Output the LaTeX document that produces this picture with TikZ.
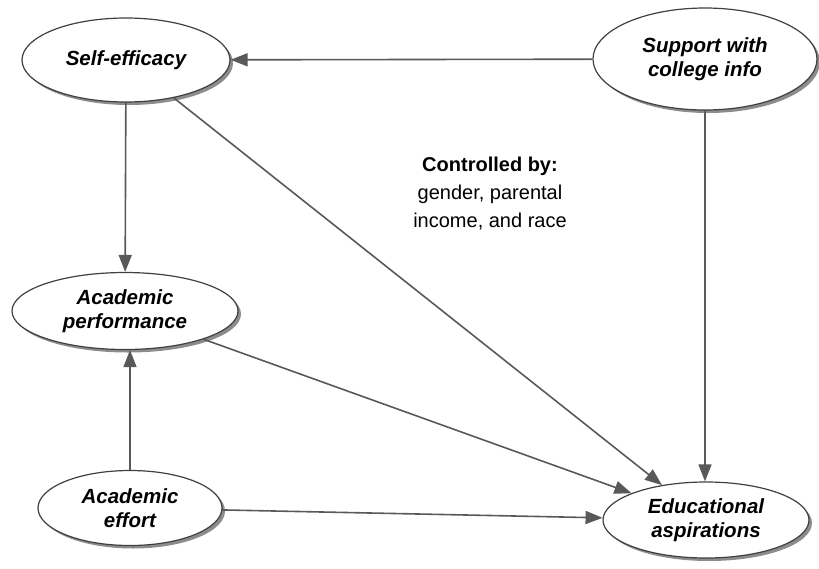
\documentclass[tikz,border=0pt]{standalone}
\usepackage{fontspec}
\setmainfont{Liberation Sans}
\usetikzlibrary{shapes.geometric,shadows,arrows.meta}

\tikzset{
  var/.style={ellipse, draw=black!75, line width=1.2pt, fill=white, inner sep=0pt,
    align=center, font=\fontsize{20.5}{24}\selectfont\bfseries\itshape,
    drop shadow={shadow xshift=3pt, shadow yshift=-3pt, fill=black!45, opacity=1}},
  arr/.style={draw=black!65, line width=1.6pt,
    -{Triangle[length=17pt,width=13pt]}, fill=black!65},
  note/.style={align=center, font=\fontsize{20}{28}\selectfont}
}

\begin{document}
\begin{tikzpicture}[x=1pt, y=-1pt]
  \useasboundingbox (0,0) rectangle (819,568);

  % latent constructs
  \node[var, minimum width=208pt, minimum height=84pt] (se)  at (126,60)  {Self-efficacy};
  \node[var, minimum width=224pt, minimum height=102pt] (sup) at (705,59)  {Support with\\college info};
  \node[var, minimum width=226pt, minimum height=77pt] (pf)  at (125,311) {Academic\\performance};
  \node[var, minimum width=184pt, minimum height=75pt] (ef)  at (130,508) {Academic\\effort};
  \node[var, minimum width=206pt, minimum height=76pt] (edu) at (706,520) {Educational\\aspirations};

  % control variables
  \node[note] (ctl) at (490,194) {\textbf{Controlled by:}\\gender, parental\\income, and race};

  % paths
  \draw[arr] (sup) -- (se);
  \draw[arr] (se) -- (pf);
  \draw[arr] (ef.north) -- (ef.north |- pf.south);
  \draw[arr] (se) -- (edu);
  \draw[arr] (pf) -- (edu);
  \draw[arr] (ef) -- (edu);
  \draw[arr] (sup.south) -- (sup.south |- edu.north);
\end{tikzpicture}
\end{document}
